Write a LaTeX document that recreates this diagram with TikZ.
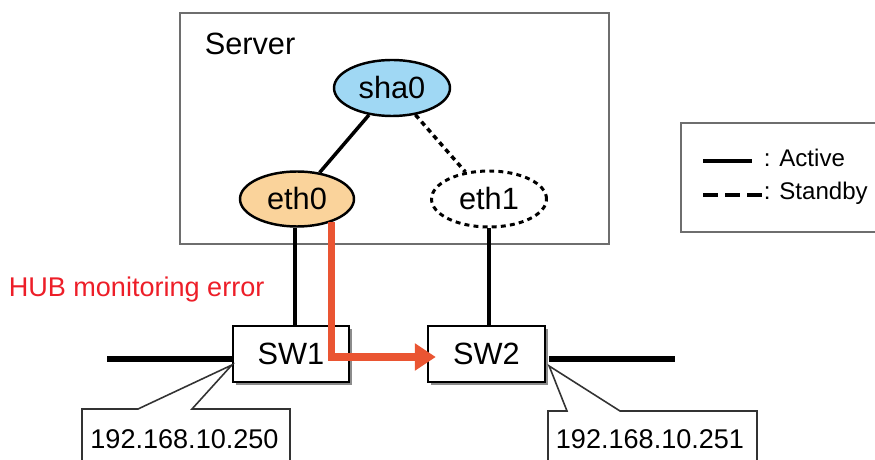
\documentclass[tikz,border=0pt]{standalone}
\usepackage{fontspec}
\setmainfont{Liberation Sans}
\usetikzlibrary{shapes.geometric,shadows,arrows.meta}
\definecolor{shablue}{RGB}{160,216,244}
\definecolor{ethorange}{RGB}{250,211,155}
\definecolor{errred}{RGB}{234,85,50}
\definecolor{hubred}{RGB}{237,30,40}
\definecolor{framegray}{RGB}{110,110,110}
\begin{document}
\begin{tikzpicture}[line width=2pt,
  lbl/.style={font=\fontsize{17.5}{20}\selectfont},
  nic/.style={ellipse, draw, lbl, line width=1.4pt, inner sep=0pt, minimum width=2.28cm, minimum height=1.10cm},
  switchbox/.style={rectangle, draw, lbl, fill=white, line width=1.3pt, inner sep=0pt, minimum width=2.32cm, minimum height=1.12cm, drop shadow={shadow xshift=0.06cm, shadow yshift=-0.06cm, fill=black!45, opacity=1}},
  standby/.style={dash pattern=on 2.8pt off 2.4pt},
  lan/.style={line width=3.4pt},
  callout/.style={draw=black!80, fill=white, line width=0.9pt},
  iptext/.style={font=\fontsize{15.4}{18}\selectfont, inner sep=0pt},
  legendtext/.style={font=\fontsize{13.7}{16}\selectfont, anchor=base west, inner sep=0.06cm}]
  \useasboundingbox (0,0) rectangle (17.5,9.18);
  % server frame
  \draw[framegray, line width=1.6pt] (3.60,4.30) rectangle (12.18,8.92);
  \node[lbl, anchor=west, inner sep=0pt] (srv) at (4.06,8.30) {Server};
  \node[nic, fill=shablue, minimum width=2.32cm, minimum height=1.12cm] (sha0) at (7.84,7.42) {sha0};
  \node[nic, fill=ethorange] (eth0) at (5.94,5.20) {eth0};
  \node[nic, standby, line width=1.7pt, minimum width=2.30cm, minimum height=1.12cm] (eth1) at (9.78,5.20) {eth1};
  \draw (sha0) -- (eth0);
  \draw[standby] (sha0) -- (eth1);
  % switches
  \node[switchbox] (sw1) at (5.82,2.10) {SW1};
  \node[switchbox, minimum width=2.34cm] (sw2) at (9.73,2.10) {SW2};
  \draw ([xshift=-0.04cm]eth0.south) -- ([xshift=-0.04cm]eth0.south |- sw1.north);
  \draw (eth1.south) -- (eth1.south |- sw2.north);
  \coordinate (lanL) at (2.14,2.00);
  \coordinate (lanR) at (13.50,2.00);
  \draw[lan] (lanL) -- (lanL -| sw1.west);
  \draw[lan] ([xshift=0.06cm]sw2.east |- lanR) -- (lanR);
  % switch-over
  \draw[errred, line width=4pt, -{Triangle[length=0.42cm, width=0.52cm]}]
    (eth0.-34) |- ([xshift=0.18cm, yshift=-0.06cm]sw2.west);
  \node[font=\fontsize{15.4}{18}\selectfont, text=hubred, anchor=base west, inner sep=0pt] (hub) at (0.14,3.24) {HUB monitoring error};
  % addresses
  \draw[callout] (1.64,-0.30) -- (1.64,1.00) -- (2.76,1.00) -- ([yshift=-0.22cm]sw1.west)
    -- (3.84,1.00) -- (5.80,1.00) -- (5.80,-0.30);
  \node[iptext] (ip1) at (3.69,0.40) {192.168.10.250};
  \draw[callout] (10.96,-0.30) -- (10.96,0.96) -- (11.34,0.96) -- ([xshift=0.06cm, yshift=-0.24cm]sw2.east)
    -- (12.40,0.96) -- (15.14,0.96) -- (15.14,-0.30);
  \node[iptext] (ip2) at (13.00,0.40) {192.168.10.251};
  % legend
  \draw[framegray, line width=1.2pt] (13.62,4.54) rectangle (18.00,6.72);
  \coordinate (actA) at (14.06,5.96);
  \coordinate (sbyA) at (14.06,5.28);
  \draw[line width=2.2pt] (actA) -- ++(0.98,0);
  \draw[line width=2.2pt, dash pattern=on 0.30cm off 0.14cm] (sbyA) -- ++(1.18,0);
  \node[legendtext] (act) at (15.18,5.84) {: Active};
  \node[legendtext] (sby) at (15.18,5.18) {: Standby};
\end{tikzpicture}
\end{document}
